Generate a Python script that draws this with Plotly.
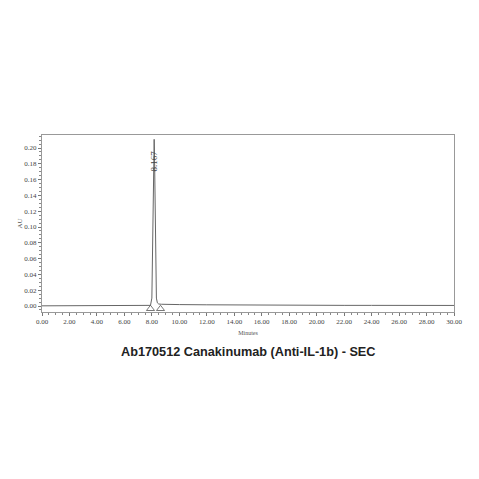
import plotly.graph_objects as go

# Chromatogram trace (time in minutes, absorbance in AU)
times = [0.0, 2.0, 4.0, 6.0, 7.0, 7.6, 7.9, 8.0, 8.05, 8.1, 8.14, 8.167, 8.19, 8.23, 8.28, 8.33,
         8.4, 8.5, 8.7, 9.0, 10.0, 12.0, 14.0, 16.0, 18.0, 20.0, 22.0, 24.0, 26.0, 28.0, 30.0]
absorb = [0.0002, 0.0003, 0.0003, 0.0003, 0.0003, 0.0004, 0.0008, 0.010, 0.060, 0.150, 0.200, 0.211, 0.195, 0.120, 0.040, 0.010,
          0.004, 0.0025, 0.0022, 0.0020, 0.0018, 0.0015, 0.0012, 0.0010, 0.0009, 0.0008, 0.0008, 0.0008, 0.0007, 0.0007, 0.0007]

peak_rt = [8.167]
peak_label = ["8.167"]
peak_label_y = [0.183]

marker_times = [7.90, 8.63]
marker_y = [-0.0035, -0.0035]

x_ticks = [0, 2, 4, 6, 8, 10, 12, 14, 16, 18, 20, 22, 24, 26, 28, 30]
x_tick_text = ["%.2f" % v for v in x_ticks]
y_ticks = [0.00, 0.02, 0.04, 0.06, 0.08, 0.10, 0.12, 0.14, 0.16, 0.18, 0.20]
y_tick_text = ["%.2f" % v for v in y_ticks]

title = "Ab170512 Canakinumab (Anti-IL-1b) - SEC"

# page body has an 8px margin; figure sized to fit inside the window
OFF = 8
W = H = 463
LEFT, RIGHT, TOP, BOTTOM = 42, 454, 135, 312
PLOT_H = BOTTOM - TOP

fig = go.Figure()
fig.add_trace(go.Scatter(x=times, y=absorb, mode="lines",
                         line=dict(color="#666666", width=1), showlegend=False, hoverinfo="skip"))
fig.add_trace(go.Scatter(x=marker_times, y=marker_y, mode="markers",
                         marker=dict(symbol="triangle-up-open", size=7, color="#555555", line=dict(width=0.8)),
                         showlegend=False, hoverinfo="skip"))
fig.add_annotation(x=peak_rt[0], y=peak_label_y[0], text=peak_label[0], textangle=-90, showarrow=False,
                   font=dict(family="Liberation Serif", size=9, color="#444444"))

fig.update_layout(
    width=W, height=H,
    margin=dict(l=LEFT - OFF, r=W + OFF - RIGHT, t=TOP - OFF, b=H + OFF - BOTTOM, pad=0),
    paper_bgcolor="white", plot_bgcolor="white",
    xaxis=dict(range=[0, 30], tickvals=x_ticks, ticktext=x_tick_text, showgrid=False, zeroline=False,
               automargin=False,
               showline=True, linecolor="#999999", linewidth=1, mirror=True,
               ticks="outside", ticklen=3, tickcolor="#777777", tickwidth=0.8,
               minor=dict(dtick=0.5, ticks="outside", ticklen=2, tickcolor="#888888"),
               tickfont=dict(family="Liberation Serif", size=7, color="#444444"),
               title=dict(text="Minutes", font=dict(family="Liberation Serif", size=6, color="#555555"), standoff=5)),
    yaxis=dict(range=[-0.0076, 0.2165], tickvals=y_ticks, ticktext=y_tick_text, showgrid=False, zeroline=False,
               automargin=False,
               showline=True, linecolor="#999999", linewidth=1, mirror=True,
               ticks="outside", ticklen=3, tickcolor="#777777", tickwidth=0.8,
               minor=dict(dtick=0.005, ticks="outside", ticklen=2, tickcolor="#888888"),
               tickfont=dict(family="Liberation Serif", size=7, color="#444444"),
               title=dict(text="AU", font=dict(family="Liberation Serif", size=7, color="#555555"), standoff=0)),
)
fig.add_annotation(x=0.5, xref="paper", y=-(352 - BOTTOM) / PLOT_H, yref="paper", yanchor="middle",
                   text="<b>" + title + "</b>", showarrow=False,
                   font=dict(family="Liberation Sans", size=12.7, color="#222222"))
fig.write_html("out.html")
